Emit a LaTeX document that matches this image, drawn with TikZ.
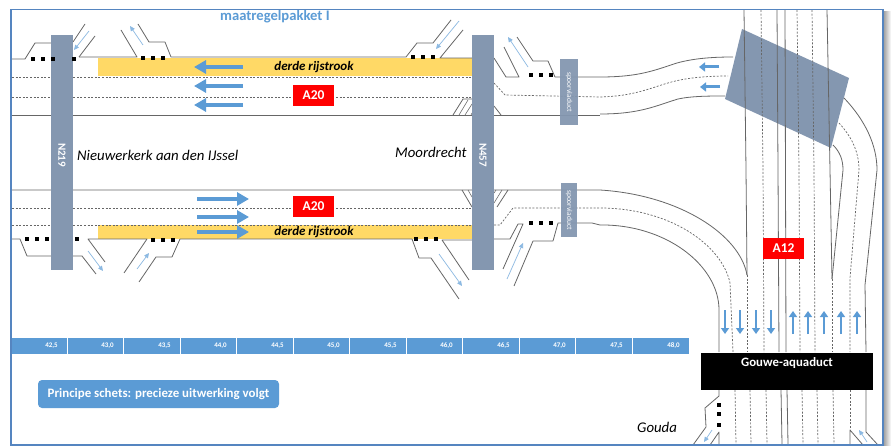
\documentclass[tikz,border=0pt]{standalone}
\usepackage{fontspec}
\setmainfont{Carlito}
\usetikzlibrary{arrows.meta}
\definecolor{bluefill}{HTML}{5B9BD5}
\definecolor{barfill}{HTML}{8497B0}
\definecolor{yellowfill}{HTML}{FFD966}
\definecolor{framecol}{HTML}{5585C0}
\definecolor{roadcol}{HTML}{666666}
\tikzset{
  road/.style={draw=roadcol,line width=0.8pt,line join=round},
  lane/.style={draw=roadcol,line width=0.7pt,dash pattern=on 2pt off 1.6pt},
  hatchline/.style={draw=roadcol,line width=0.55pt},
  bigarrow/.style={draw=bluefill,line width=4pt,-{Triangle[length=12pt,width=13pt]}},
  midarrow/.style={draw=bluefill,line width=3pt,-{Triangle[length=6pt,width=9pt]}},
  lanearrow/.style={draw=bluefill,line width=2.4pt,-{Triangle[length=6pt,width=8pt]}},
  rampflow/.style={draw=bluefill!70,line width=0.7pt,-{Triangle[length=5pt,width=4.5pt]}},
  bar/.style={fill=barfill},
  barlabel/.style={text=white,font=\bfseries\fontsize{11}{12}\selectfont,rotate=-90},
  vialabel/.style={text=white,font=\fontsize{7.5}{8}\selectfont,rotate=-90},
  redbox/.style={fill=red,text=white,font=\bfseries\fontsize{13.5}{15}\selectfont,minimum width=41pt,minimum height=21pt,inner sep=0pt},
  scalecell/.style={fill=bluefill},
  scaletext/.style={text=white,font=\bfseries\fontsize{7}{8}\selectfont,inner sep=0pt},
  place/.style={font=\itshape\fontsize{14.8}{16}\selectfont,inner sep=0pt},
  lanename/.style={font=\bfseries\itshape\fontsize{13}{14}\selectfont,inner sep=0pt},
  dotsq/.style={fill=black,minimum size=4.6pt,inner sep=0pt}
}
\begin{document}
\begin{tikzpicture}[x=1pt,y=-1pt]
\useasboundingbox (0,0) rectangle (893,446);
\fill[white] (0,0) rectangle (893,446);
% shadow
\shade[left color=gray!70,right color=white] (884,12) rectangle (891,446);
% yellow lanes
\fill[yellowfill] (98,58) rectangle (472,76);
\fill[yellowfill] (98,225) rectangle (472,239);
% top carriageway
\draw[road] (12,115) -- (600,115);
\draw[lane] (12,77) -- (472,77);
\draw[lane] (12,97) -- (472,97);
\draw[road] (12,59) -- (25,59) -- (35,43) -- (52,43);
\draw[road] (73,42) -- (85,24);
\draw[road] (79,57) -- (95,36);
\draw[road] (79,57) -- (137,57) -- (121,30);
\draw[road] (138,24) -- (149,42) -- (165,42) -- (171,57) -- (406,57) -- (417,43) -- (433,43) -- (451,20);
\draw[road] (463,30) -- (440,58) -- (472,58);
\draw[rampflow] (89,31) -- (74,50);
\draw[rampflow] (143,45) -- (130,26);
\draw[rampflow] (459,21) -- (436,49);
% top right of N457
\draw[road] (494,58) -- (506,77) -- (519,77) -- (504,47);
\draw[road] (517,37) -- (533,61) -- (548,61) -- (555,77) -- (600,77)
  .. controls (640,77) and (655,70) .. (677,63) .. controls (695,58) and (715,57) .. (733,57);
\draw[lane] (494,83) -- (505,95) -- (600,97)
  .. controls (640,96) and (655,85) .. (680,80) .. controls (695,77) and (712,76) .. (728,76);
\draw[road] (600,114) .. controls (640,114) and (655,106) .. (678,99) .. controls (692,96) and (710,96) .. (725,96);
\draw[rampflow] (528,67) -- (508,37);
\draw[road] (494,106) -- (501,115);
% hatch top
\draw[road] (453,115) -- (463,99) -- (472,99);
\draw[hatchline] (459,115) -- (468,100) (465,115) -- (472,104) (471,115) -- (472,113);
% lower carriageway
\draw[road] (12,190) -- (600,190) .. controls (680,195) and (740,235) .. (747,275);
\draw[lane] (12,208) -- (472,208);
\draw[lane] (12,225) -- (472,225);
\draw[lane] (494,225) -- (500,225) -- (513,208) -- (600,208) .. controls (670,208) and (722,245) .. (730,283) -- (733,352);
\draw[road] (600,225) .. controls (665,224) and (719,265) .. (719,310) -- (719,352);
% hatch lower
\draw[road] (462,190) -- (472,207);
\draw[hatchline] (468,190) -- (472,197);
\draw[road] (508,190) -- (497,207);
\draw[hatchline] (502,190) -- (494,203) (496,190) -- (494,193);
% lower ramps
\draw[road] (12,239) -- (20,239) -- (27,256) -- (82,256) -- (96,274);
\draw[road] (105,262) -- (88,239) -- (147,239) -- (124,273);
\draw[road] (139,282) -- (156,257) -- (172,257) -- (180,239) -- (412,239) -- (419,258) -- (431,258) -- (459,299);
\draw[road] (469,280) -- (442,240) -- (472,240);
\draw[road] (494,239) -- (510,239) -- (518,224) -- (523,224) -- (503,269);
\draw[road] (514,286) -- (533,241) -- (553,241) -- (558,223) -- (592,223) -- (600,225);
\draw[rampflow] (88,251) -- (103,271);
\draw[rampflow] (137,269) -- (149,253);
\draw[rampflow] (439,254) -- (462,286);
\draw[rampflow] (507,279) -- (523,243);
% A12 rotated block
\fill[barfill] (742,29) -- (849,78) -- (831,148) -- (725,99) -- cycle;
% A12 lanes
\draw[road] (744,10) -- (746,170) -- (747,275);
\draw[lane] (747,275) -- (747,352);
\draw[lane] (761,10) -- (763,170) -- (764,352);
\draw[road] (777,10) -- (778,170) -- (779,352);
\draw[road] (785,10) -- (786,352);
\draw[lane] (797,10) -- (799,170) -- (800,352);
\draw[lane] (812,10) -- (814,170) -- (815,352);
\draw[road] (827,10) -- (830,170) -- (832,279);
\draw[lane] (832,279) -- (832,352);
\draw[road] (844,98) .. controls (865,120) and (877,145) .. (877,170) -- (865,285) -- (866,352);
\draw[lane] (839,123) .. controls (850,135) and (859,150) .. (859,170) -- (850,278) -- (850,352);
\draw[road] (833,145) .. controls (840,152) and (843,160) .. (843,170) -- (832,279);
% below aquaduct
\draw[road] (719,390) -- (719,396) -- (705,408) -- (706,427) -- (693,445);
\draw[road] (710,445) -- (719,432) -- (719,445);
\draw[lane] (735,390) -- (736,444);
\draw[lane] (750,390) -- (751,444);
\draw[lane] (766,390) -- (767,444);
\draw[road] (781,390) -- (782,444);
\draw[road] (787,390) -- (788,444);
\draw[lane] (802,390) -- (803,444);
\draw[lane] (817,390) -- (818,444);
\draw[lane] (833,390) -- (834,444);
\draw[lane] (850,390) -- (850,430);
\draw[road] (850,445) -- (850,430) -- (863,445);
\draw[road] (866,390) -- (866,432) -- (878,445);
\draw[rampflow] (712,430) -- (704,442);
\draw[rampflow] (867,442) -- (859,430);
% vertical bars
\fill[bar] (51,35) rectangle (73,270);
\fill[bar] (472,35) rectangle (494,270);
\fill[bar,opacity=0.95] (560,59) rectangle (578,125);
\fill[bar,opacity=0.95] (561,183) rectangle (577,237);
\node[barlabel] (n219) at (62,155) {N219};
\node[barlabel] (n457) at (483,155) {N457};
\node[vialabel] (via1) at (569,92) {spoorviaduct};
\node[vialabel] (via2) at (569,210) {spoorviaduct};
% dots
\foreach \px/\py in {33/59,43/59,53/59,74/59,143/58,153/58,163/58,413/57,423/57,433/57,531/75,541/75,551/75,
  27/239,37/239,47/239,77/239,153/240,163/240,173/240,416/239,426/239,436/239,531/223,541/223,551/223,
  719/405,719/414,719/425}
  \node[dotsq] at (\px,\py) {};
% block arrows
\draw[bigarrow] (243,67) -- (194,67);
\draw[bigarrow] (243,86) -- (194,86);
\draw[bigarrow] (243,105) -- (194,105);
\draw[bigarrow] (197,199) -- (249,199);
\draw[bigarrow] (197,217) -- (249,217);
\draw[bigarrow] (197,232) -- (249,232);
\draw[midarrow] (719,67) -- (699,67);
\draw[midarrow] (720,87) -- (700,87);
\foreach \ax in {725,740,756,771} \draw[lanearrow] (\ax,310) -- (\ax,334);
\foreach \ax in {793,808,824,841,857} \draw[lanearrow] (\ax,334) -- (\ax,311);
% road names
\node[redbox] (a20top) at (313.5,95.5) {A20};
\node[redbox] (a20low) at (313.5,206.5) {A20};
\node[redbox] (a12) at (783.5,248.5) {A12};
\node[lanename] (d1) at (314,67) {derde rijstrook};
\node[lanename] (d2) at (314,232) {derde rijstrook};
\node[place,anchor=west] (nw) at (77,155) {Nieuwerkerk aan den IJssel};
\node[place,anchor=west] (mo) at (395,152) {Moordrecht};
\node[place,anchor=west] (go) at (637,427) {Gouda};
\node[text=bluefill,font=\bfseries\fontsize{14.6}{16}\selectfont,anchor=west,inner sep=0pt] (title) at (220,17) {maatregelpakket I};
% scale
\foreach \xa/\xb/\lab in {12/66.5/42{,}5,67.5/122.5/43{,}0,123.5/179.5/43{,}5,180.5/235.5/44{,}0,236.5/292.5/44{,}5,293.5/348.5/45{,}0,349.5/405.5/45{,}5,406.5/461.5/46{,}0,462.5/518.5/46{,}5,519.5/574.5/47{,}0,575.5/631.5/47{,}5,632.5/688.5/48{,}0}{
  \fill[scalecell] (\xa,338) rectangle (\xb,354);
  \node[scaletext] at (\xb-15,346) {\lab};
}
% note
\node[fill=bluefill,rounded corners=4pt,text=white,font=\bfseries\fontsize{12.9}{14}\selectfont,minimum width=241pt,minimum height=28pt,inner sep=0pt] (note) at (158.5,394) {Principe schets: precieze uitwerking volgt};
% aquaduct
\fill[black] (701,353) rectangle (873,390);
\node[text=white,font=\bfseries\fontsize{12.8}{14}\selectfont,inner sep=0pt] (gouwe) at (787,363) {Gouwe-aquaduct};
% frame
\draw[framecol,line width=1.8pt] (11,9.5) rectangle (883,445);
\end{tikzpicture}
\end{document}
